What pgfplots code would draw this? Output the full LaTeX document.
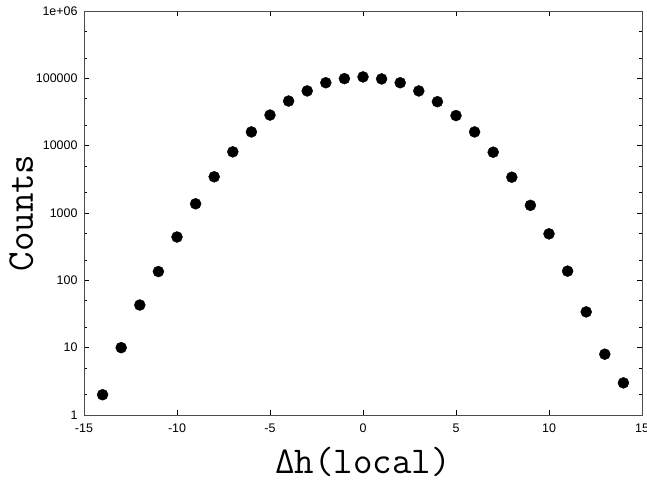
\documentclass[border=0pt]{standalone}
\usepackage{pgfplots}
\pgfplotsset{compat=1.18}
\usepackage{fontspec}
\setmainfont{Liberation Sans}
\begin{document}
\begin{tikzpicture}
\begin{axis}[
  name=ax,
  scale only axis,
  width=558bp, height=404bp,
  xmin=-15, xmax=15,
  ymode=log, ymin=1, ymax=1e6,
  xtick={-15,-10,-5,0,5,10,15},
  ytick={1,10,100,1000,10000,100000,1000000},
  yticklabels={1,10,100,1000,10000,100000,1e+06},
  xticklabels={-15,-10,-5,0,5,10,15},
  minor ytick={2,5,20,50,200,500,2000,5000,20000,50000,200000,500000},
  tick align=inside,
  major tick length=5bp,
  minor tick length=3bp,
  axis line style={black!70, line width=0.8pt},
  every tick/.style={black, line width=0.6pt},
  tick label style={font=\fontsize{12.5}{13}\selectfont},
  /pgf/number format/assume math mode=true,
  xticklabel style={yshift=-5bp},
  yticklabel style={xshift=-3bp},
  xlabel={\ttfamily Δh(local)},
  ylabel={\ttfamily Counts},
  label style={font=\fontsize{38}{38}\selectfont},
  xlabel style={at={(axis description cs:0.5,-0.1436)}, anchor=base},
  ylabel style={at={(axis description cs:-0.0914,0.5)}, anchor=base},
]
\addplot[only marks, mark=*, mark size=5.5bp, black] coordinates {
(-14,2) (-13,10) (-12,43) (-11,135) (-10,440) (-9,1370) (-8,3450) (-7,8100)
(-6,16000) (-5,28500) (-4,46000) (-3,65000) (-2,86000) (-1,99000) (0,105000)
(1,98000) (2,86000) (3,65000) (4,45000) (5,28000) (6,16000) (7,8000)
(8,3400) (9,1300) (10,490) (11,137) (12,34) (13,8) (14,3)
};
\end{axis}
\pgfresetboundingbox
\path[use as bounding box] ([xshift=-84bp,yshift=-67bp]ax.south west) rectangle ([xshift=5bp,yshift=11bp]ax.north east);
\end{tikzpicture}
\end{document}
